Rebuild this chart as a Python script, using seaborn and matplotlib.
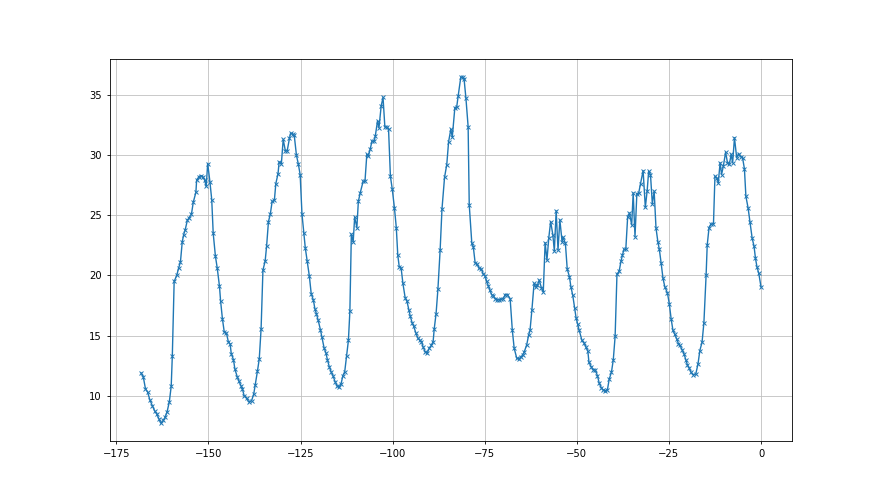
import numpy as np
import pandas as pd
import matplotlib
matplotlib.use("Agg")
import matplotlib.pyplot as plt
import seaborn as sns

hours = [
    -168.3, -167.7, -167.1, -166.5, -165.9, -165.2, -164.6, -164.0, -163.4, -162.9,
    -162.2, -161.7, -161.2, -160.6, -160.1, -159.8, -159.3, -158.6, -158.1, -157.6,
    -157.1, -156.7, -156.3, -155.7, -155.2, -154.6, -154.1, -153.4, -153.2, -152.6,
    -152.1, -151.5, -151.0, -150.6, -150.2, -149.6, -149.1, -148.7, -148.1, -147.6,
    -147.0, -146.7, -146.2, -145.7, -145.1, -144.6, -144.1, -143.8, -143.2, -142.8,
    -142.2, -141.7, -141.1, -140.8, -140.3, -139.6, -139.1,
    -138.3, -137.7, -137.3, -136.7, -136.2, -135.7, -135.2, -134.6, -134.2, -133.7,
    -133.2, -132.7, -132.1, -131.7, -131.1, -130.8, -130.2, -129.7, -129.1, -128.6,
    -128.0, -127.7, -127.1, -126.7, -126.1, -125.6, -125.1, -124.6, -124.1, -123.7,
    -123.2, -122.6, -122.1, -121.5, -121.1, -120.7, -120.2, -119.6, -119.2, -118.6,
    -118.1, -117.7, -117.2, -116.7, -116.2, -115.6, -115.0, -114.6, -114.0, -113.5,
    -113.0, -112.5, -112.0, -111.6, -111.2, -110.7, -110.3, -109.7, -109.3, -108.8,
    -108.0, -107.5, -107.0, -106.6, -106.1, -105.6, -105.0, -104.7, -104.1, -103.7,
    -103.1, -102.6, -102.1, -101.5, -101.1, -100.6, -100.1, -99.5, -99.0, -98.6,
    -98.2, -97.7, -97.2, -96.6, -96.1, -95.6, -95.2, -94.7, -94.3, -93.7,
    -93.2, -92.6, -92.2, -91.7, -91.1, -90.6, -90.0, -89.5, -89.0, -88.7,
    -88.2, -87.7, -87.1, -86.6, -85.9, -85.3, -84.8, -84.2, -83.8, -83.1,
    -82.6, -82.2, -81.5, -81.0, -80.6, -80.1, -79.5, -79.2, -78.5, -78.1,
    -77.6, -77.0, -76.5, -75.9, -75.4, -74.9, -74.5, -74.0, -73.6, -73.1,
    -72.7, -72.1, -71.6, -71.0, -70.5, -70.0, -69.4, -68.9, -68.1, -67.5,
    -67.0, -66.3, -65.8, -65.2, -64.7, -64.3, -63.6, -63.1, -62.7, -62.2,
    -61.6, -61.2, -60.7, -60.2, -59.6, -59.1, -58.6, -58.1, -57.6, -57.1,
    -56.5, -56.1, -55.6, -55.1, -54.6, -54.0, -53.7, -53.1, -52.6, -52.0,
    -51.6, -51.1, -50.6, -50.2, -49.8, -49.4,
    -48.6, -48.0, -47.5, -47.0, -46.7, -46.1, -45.5, -45.0, -44.4, -43.9,
    -43.3, -42.8, -42.3, -41.7, -41.2, -40.6, -40.1, -39.6, -39.1, -38.5,
    -38.0, -37.6, -37.2, -36.7, -36.2, -35.7, -35.1, -34.7, -34.2, -33.7,
    -33.2, -32.7, -32.0, -31.4, -30.9, -30.5, -30.0, -29.5, -29.0, -28.5,
    -28.0, -27.6, -27.1, -26.6, -26.1, -25.4, -24.9, -24.4, -23.9, -23.4,
    -22.9, -22.4, -22.0, -21.4, -20.9, -20.4, -20.0, -19.5,
    -19.0, -18.4, -17.7, -17.1, -16.6, -16.0, -15.5, -14.9, -14.6, -14.1,
    -13.6, -12.9, -12.5, -12.0, -11.6, -11.1, -10.7, -10.2, -9.6, -9.1,
    -8.6, -8.1, -7.7, -7.2, -6.6, -6.1, -5.5, -5.0, -4.5, -4.1,
    -3.5, -3.0, -2.4, -1.9, -1.5, -1.1, -0.6, 0.0,
]

temps = [
    11.9, 11.6, 10.6, 10.3, 9.67, 9.16, 8.75, 8.47, 8.05, 7.72,
    7.97, 8.25, 8.69, 9.52, 10.8, 13.3, 19.5, 20.0, 20.6, 21.1,
    22.8, 23.4, 23.8, 24.6, 24.8, 25.1, 26.1, 26.9, 27.9, 28.2,
    28.3, 28.2, 27.9, 27.4, 29.3, 27.8, 26.3, 23.5, 21.6, 20.6,
    19.1, 17.9, 16.4, 15.3, 15.2, 14.5, 14.3, 13.5, 13.0, 12.2,
    11.6, 11.2, 10.8, 10.6, 10.0, 9.8, 9.5,
    9.58, 10.14, 10.89, 12.03, 13.06, 15.57, 20.44, 21.19, 22.45, 24.48,
    25.09, 26.15, 26.23, 27.63, 28.46, 29.44, 29.27, 31.30, 30.33, 30.38,
    31.39, 31.80, 31.72, 31.64, 29.97, 29.27, 28.38, 25.09, 23.5, 22.28,
    21.19, 19.94, 18.49, 17.94, 17.24, 16.83, 16.27, 15.49, 14.87, 13.98,
    13.56, 13.0, 12.42, 12.0, 11.67, 11.17, 10.78, 10.70, 10.98, 11.67,
    12.0, 13.29, 14.6, 17.02, 23.42, 22.8, 24.84, 23.98, 26.15, 26.85,
    27.82, 27.82, 30.05, 29.91, 30.47, 31.16, 31.16, 31.58, 32.83, 32.28,
    34.09, 34.79, 32.33, 32.33, 32.14, 28.24, 27.18, 25.6, 23.98, 21.7,
    20.72, 20.64, 19.33, 18.16, 17.85, 17.16, 16.6, 16.07, 15.79, 15.24,
    14.82, 14.6, 14.51, 14.04, 13.62, 13.57, 13.98, 14.18, 14.51, 15.57,
    16.83, 18.86, 22.11, 25.51, 28.15, 29.21, 31.11, 32.14, 31.5, 33.95,
    34.0, 34.92, 36.46, 36.51, 36.32, 34.73, 32.36, 25.87, 22.67, 22.39,
    21.05, 20.92, 20.58, 20.53, 20.11, 19.97, 19.52, 19.13, 18.77, 18.41,
    18.3, 18.08, 17.99, 17.99, 18.02, 18.08, 18.41, 18.41, 18.08, 15.43,
    13.95, 13.12, 13.06, 13.2, 13.4, 13.62, 14.23, 15.01, 15.43, 17.1,
    19.33, 19.05, 19.19, 19.61, 18.96, 18.63, 22.72, 21.28, 23.14, 24.48,
    23.37, 22.03, 25.37, 22.11, 24.62, 22.81, 23.17, 22.67, 20.53, 19.89,
    19.05, 18.35, 17.3, 16.49, 15.99, 15.49,
    14.6, 14.37, 14.04, 13.7, 12.78, 12.42, 12.15, 12.15, 11.67, 11.03,
    10.64, 10.48, 10.42, 10.48, 11.39, 11.95, 12.98, 14.93, 20.08, 20.36,
    21.19, 21.7, 22.17, 22.17, 24.84, 25.18, 24.2, 26.85, 23.23, 26.79,
    26.85, 27.63, 28.71, 25.65, 27.04, 28.65, 28.38, 25.96, 26.99, 23.93,
    22.81, 22.17, 21.0, 19.75, 19.05, 18.55, 17.66, 16.41, 15.43, 15.1,
    14.74, 14.32, 14.18, 13.82, 13.48, 12.98, 12.59, 12.31,
    11.95, 11.75, 11.81, 12.65, 13.76, 14.45, 16.07, 20.03, 22.53, 23.98,
    24.26, 24.29, 28.24, 28.1, 27.69, 29.36, 28.38, 29.13, 30.24, 29.36,
    29.22, 30.05, 29.36, 31.44, 29.77, 30.13, 29.86, 29.77, 28.86, 26.57,
    25.6, 24.48, 23.09, 22.45, 21.42, 20.72, 20.17, 19.05,
]

df = pd.DataFrame({"hour": hours, "temp": temps})

fig, ax = plt.subplots(figsize=(8.8, 4.95), dpi=100)
sns.lineplot(data=df, x="hour", y="temp", sort=False, ax=ax, color="#1f77b4",
             linewidth=1.0, marker="x", markersize=3.2, markeredgewidth=0.7,
             markeredgecolor="#1f77b4", errorbar=None)
ax.set_xlabel("")
ax.set_ylabel("")
ax.grid(True, color="#c0c0c0", linewidth=0.6)
ax.set_axisbelow(True)
ax.set_xticks([-175, -150, -125, -100, -75, -50, -25, 0])
ax.set_yticks([10, 15, 20, 25, 30, 35])
ax.tick_params(labelsize=7.2, length=2.5, width=0.6)
for s in ax.spines.values():
    s.set_linewidth(0.6)
fig.subplots_adjust(left=0.125, right=0.9, top=0.88, bottom=0.11)
fig.savefig("out.png", dpi=100)
